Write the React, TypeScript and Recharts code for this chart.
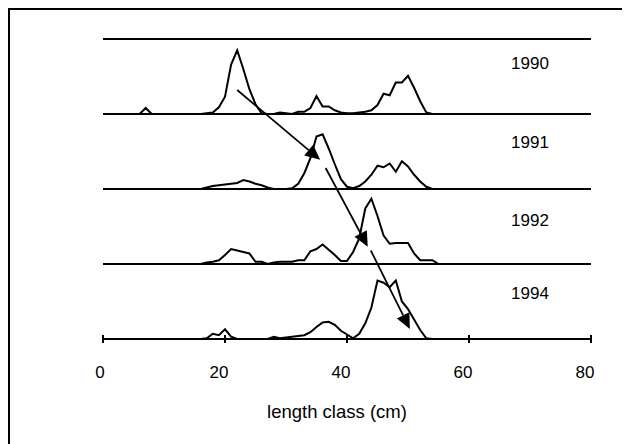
import React from 'react';
import { LineChart, Line, XAxis, YAxis, ReferenceLine, ReferenceDot } from 'recharts';

// length classes (cm) and relative frequency per year, in panel units (0-100 = one panel)
const lengthClass = Array.from({ length: 75 }, (_, i) => i + 1);

const freq1990 = [
  0, 0, 0, 0, 0, 0, 8, 0, 0, 0, 0, 0, 0, 0, 0,
  0, 1, 2, 9, 23, 66, 85, 60, 33, 13, 1, 0, 0, 2, 1,
  0, 3, 3, 8, 24, 10, 10, 5, 2, 1, 1, 2, 3, 5, 12,
  27, 25, 42, 42, 51, 35, 17, 2, 0, 0, 0, 0, 0, 0, 0,
  0, 0, 0, 0, 0, 0, 0, 0, 0, 0, 0, 0, 0, 0, 0,
];
const freq1991 = [
  0, 0, 0, 0, 0, 0, 0, 0, 0, 0, 0, 0, 0, 0, 0,
  0, 2, 4, 5, 6, 7, 8, 12, 10, 7, 5, 2, 0, 0, 0,
  1, 7, 21, 41, 70, 73, 54, 33, 13, 3, 1, 4, 10, 19, 31,
  29, 34, 23, 37, 30, 19, 10, 3, 0, 0, 0, 0, 0, 0, 0,
  0, 0, 0, 0, 0, 0, 0, 0, 0, 0, 0, 0, 0, 0, 0,
];
const freq1992 = [
  0, 0, 0, 0, 0, 0, 0, 0, 0, 0, 0, 0, 0, 0, 0,
  0, 2, 3, 5, 12, 20, 18, 16, 14, 3, 3, 0, 2, 3, 3,
  3, 5, 5, 17, 20, 26, 19, 12, 4, 4, 16, 34, 74, 87, 64,
  38, 27, 28, 28, 28, 14, 5, 5, 5, 0, 0, 0, 0, 0, 0,
  0, 0, 0, 0, 0, 0, 0, 0, 0, 0, 0, 0, 0, 0, 0,
];
const freq1994 = [
  0, 0, 0, 0, 0, 0, 0, 0, 0, 0, 0, 0, 0, 0, 0,
  0, 1, 7, 5, 13, 3, 0, 0, 0, 0, 0, 0, 3, 1, 2,
  3, 4, 5, 9, 16, 22, 23, 19, 11, 6, 1, 7, 21, 42, 78,
  75, 69, 78, 50, 40, 26, 12, 1, 0, 0, 0, 0, 0, 0, 0,
  0, 0, 0, 0, 0, 0, 0, 0, 0, 0, 0, 0, 0, 0, 0,
];

const years = ['1990', '1991', '1992', '1994'];
const panelBase = [300, 200, 100, 0];
const panelLines = [100, 200, 300, 400];
const xTicks = [0, 20, 40, 60, 80];
// year label anchor: [length class, stacked y]
const yearLabelPos = [
  [70, 360],
  [70, 255],
  [70, 151],
  [70, 53],
];
// cohort arrows: [x1, y1, x2, y2] in chart units
const arrows = [
  [22, 332, 35.6, 239],
  [36.5, 228, 43.4, 123],
  [43.9, 118, 50.3, 13.5],
];

const series = [freq1990, freq1991, freq1992, freq1994];

const data = lengthClass.map((x, i) => {
  const row: Record<string, number> = { x };
  years.forEach((yr, s) => {
    row['y' + yr] = series[s][i] + panelBase[s];
  });
  return row;
});

const FONT = '"Liberation Sans", Arial, sans-serif';

const Tick = (props: any) => {
  const { x, y, payload } = props;
  const label = String(payload.value);
  return (
    <g>
      <line x1={x} x2={x} y1={y - 4} y2={y + 4} stroke="#000" strokeWidth={2} />
      <text x={x - 3 * label.length} y={y + 38.7} textAnchor="middle" fontSize={17} fontFamily={FONT} fill="#000">
        {label}
      </text>
    </g>
  );
};

const ArrowShape = (props: any) => {
  const { x1, y1, x2, y2 } = props;
  const dx = x2 - x1;
  const dy = y2 - y1;
  const len = Math.hypot(dx, dy);
  const ux = dx / len;
  const uy = dy / len;
  const head = 15;
  const half = 7;
  const bx = x2 - ux * head;
  const by = y2 - uy * head;
  const pts = `${x2},${y2} ${bx - uy * half},${by + ux * half} ${bx + uy * half},${by - ux * half}`;
  return (
    <g>
      <line x1={x1} y1={y1} x2={bx} y2={by} stroke="#000" strokeWidth={1.75} />
      <polygon points={pts} fill="#000" />
    </g>
  );
};

const App = () => {
  return (
    <div style={{ border: '2px solid #000', width: 640, height: 460 }}>
      <LineChart width={620} height={430} data={data} margin={{ top: 29, right: 39, left: 93, bottom: 11 }}>
        <XAxis
          type="number"
          dataKey="x"
          domain={[0, 80]}
          ticks={xTicks}
          tickLine={false}
          tickSize={0}
          tickMargin={0}
          tick={<Tick />}
          axisLine={{ stroke: '#000', strokeWidth: 2 }}
          height={90}
          label={(p: any) => (
            <text
              x={p.viewBox.x + p.viewBox.width / 2 - 10}
              y={p.viewBox.y + 79}
              textAnchor="middle"
              fontSize={18.5}
              fontFamily={FONT}
              fill="#000"
            >
              length class (cm)
            </text>
          )}
        />
        <YAxis hide type="number" domain={[0, 400]} />
        {panelLines.map((v) => (
          <ReferenceLine key={v} y={v} stroke="#000" strokeWidth={2} />
        ))}
        {years.map((yr) => (
          <Line
            key={yr}
            type="linear"
            dataKey={'y' + yr}
            stroke="#000"
            strokeWidth={2}
            dot={false}
            isAnimationActive={false}
          />
        ))}
        {arrows.map((a, i) => (
          <ReferenceLine
            key={'a' + i}
            segment={[{ x: a[0], y: a[1] }, { x: a[2], y: a[3] }]}
            shape={<ArrowShape />}
          />
        ))}
        {years.map((yr, i) => (
          <ReferenceDot
            key={'l' + yr}
            x={yearLabelPos[i][0]}
            y={yearLabelPos[i][1]}
            r={0}
            fill="none"
            stroke="none"
            label={(p: any) => (
              <text x={p.viewBox.x} y={p.viewBox.y} textAnchor="middle" fontSize={17} fontFamily={FONT} fill="#000">
                {yr}
              </text>
            )}
          />
        ))}
      </LineChart>
    </div>
  );
};

export default App;
